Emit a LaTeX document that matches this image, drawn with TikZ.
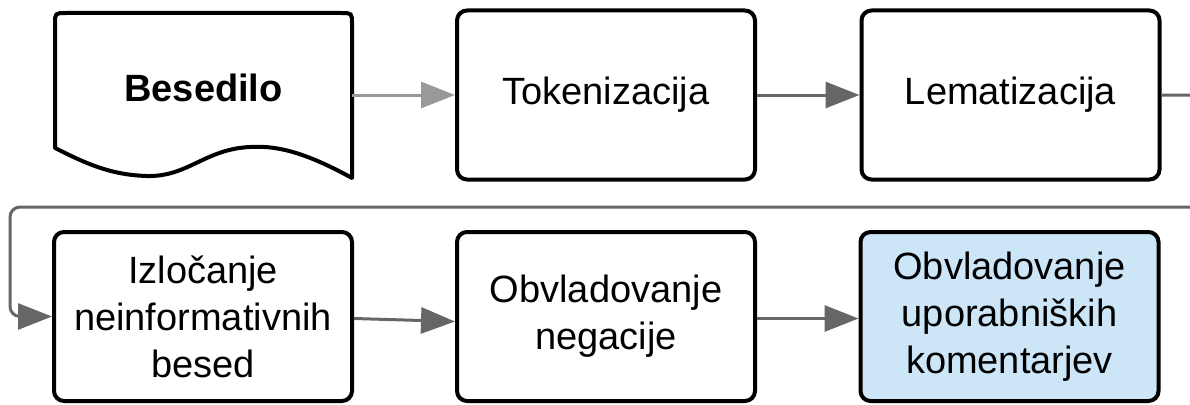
\documentclass[tikz,border=0pt]{standalone}
\usepackage{fontspec}
\setmainfont{Liberation Sans}
\usetikzlibrary{arrows.meta}
\definecolor{lightarrow}{HTML}{999999}
\definecolor{darkarrow}{HTML}{666666}
\definecolor{hlfill}{HTML}{CCE6F8}
\tikzset{
  procbox/.style={draw=black, line width=4pt, rounded corners=10pt, fill=white,
    minimum width=298pt, minimum height=169pt, align=center, inner sep=0pt,
    font=\fontsize{38}{47}\selectfont},
  docline/.style={draw=black, line width=4pt, line join=round},
  conn/.style={draw=darkarrow, line width=3pt, -{Triangle[length=34pt,width=26pt]}},
  connlight/.style={conn, draw=lightarrow},
}
\begin{document}
\begin{tikzpicture}[x=1pt,y=-1pt]
\useasboundingbox (0,0) rectangle (1190,404);
\clip (0,0) rectangle (1190,404);
% document shape
\draw[docline, fill=white] (55,148) -- (55,24) .. controls (55,13) .. (66,13) -- (341,13)
  .. controls (352,13) .. (352,24) -- (352,178)
  .. controls (310,155) and (280,145) .. (250,147)
  .. controls (205,149) and (188,177) .. (147,176)
  .. controls (110,175) and (85,163) .. (55,148) -- cycle;
\node[minimum width=297pt, minimum height=165pt, inner sep=0pt] (bes) at (203.5,95) {};
\node[font=\fontsize{38}{47}\selectfont\bfseries] (bestext) at (203.5,88) {Besedilo};
\node[procbox] (tok) at (606,95) {Tokenizacija};
\node[procbox] (lem) at (1010.5,95) {Lematizacija};
\node[procbox] (izl) at (203,316.5) {Izločanje\\neinformativnih\\besed};
\node[procbox] (neg) at (606,316.5) {Obvladovanje\\negacije};
\node[procbox, fill=hlfill] (kom) at (1009.5,316.5) {Obvladovanje\\uporabniških\\komentarjev};
\coordinate (r1) at (1205,95);
\coordinate (r2) at (1205,207);
\coordinate (l2) at (10,207);
\coordinate (l3) at (10,316.5);
% connectors
\draw[connlight] (bes.east) -- (tok.west);
\draw[conn] (tok.east) -- (lem.west);
\draw[conn, rounded corners=10pt] (lem.east) -- (r1) -- (r2) -- (l2) -- (l3) -- (izl.west);
\draw[conn] ([yshift=-2pt]izl.east) -- ([yshift=-5pt]neg.west);
\draw[conn] ([yshift=-2pt]neg.east) -- ([yshift=-2pt]kom.west);
\end{tikzpicture}
\end{document}
